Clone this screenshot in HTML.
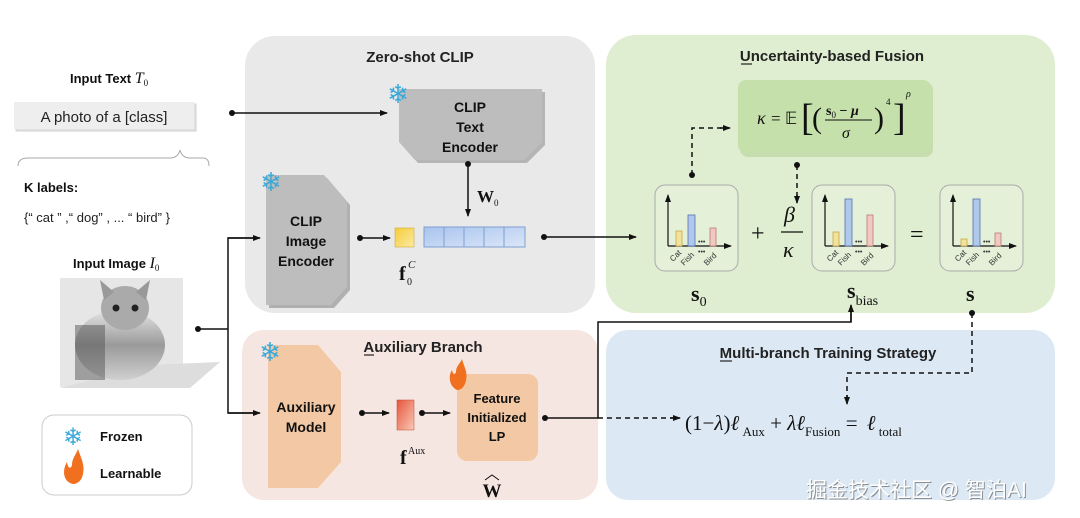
<!DOCTYPE html>
<html><head><meta charset="utf-8"><style>
body{margin:0;width:1080px;height:518px;background:#fff;overflow:hidden;font-family:"Liberation Sans",sans-serif}
svg{position:absolute;left:0;top:0}
</style></head><body>
<svg width="1080" height="518" viewBox="0 0 1080 518" font-family="Liberation Sans, sans-serif">
<defs>
<marker id="a" markerWidth="8" markerHeight="8" refX="7" refY="4" orient="auto" markerUnits="userSpaceOnUse"><path d="M0,1 L8,4 L0,7 z" fill="#111"/></marker>
<linearGradient id="bl" x1="0" y1="0" x2="1" y2="1"><stop offset="0" stop-color="#a9c4ee"/><stop offset="1" stop-color="#dbe6f8"/></linearGradient>
<linearGradient id="ye" x1="0" y1="0" x2="1" y2="1"><stop offset="0" stop-color="#f5cc3a"/><stop offset="1" stop-color="#fbeaa0"/></linearGradient>
<linearGradient id="rd" x1="0" y1="0" x2="1" y2="1"><stop offset="0" stop-color="#e8553a"/><stop offset="1" stop-color="#f8c9b8"/></linearGradient>
<linearGradient id="cat" x1="0" y1="0" x2="0" y2="1"><stop offset="0" stop-color="#e4e4e4"/><stop offset="0.5" stop-color="#9a9a9a"/><stop offset="1" stop-color="#d0d0d0"/></linearGradient>
</defs>
<rect x="245" y="36" width="350" height="277" rx="30" fill="#e9e9e9"/>
<rect x="606" y="35" width="449" height="278" rx="30" fill="#dfedd0"/>
<rect x="242" y="330" width="356" height="170" rx="22" fill="#f6e6e2"/>
<rect x="606" y="330" width="449" height="170" rx="22" fill="#dce9f4"/>
<text x="420" y="62" font-size="15" font-weight="bold" text-anchor="middle" fill="#222">Zero-shot CLIP</text>
<text x="832" y="61" font-size="15" font-weight="bold" text-anchor="middle" fill="#222">Uncertainty-based  Fusion</text>
<line x1="741" y1="64" x2="752" y2="64" stroke="#222" stroke-width="1.2"/>
<text x="423" y="352" font-size="15" font-weight="bold" text-anchor="middle" fill="#222">Auxiliary Branch</text>
<line x1="364" y1="355" x2="374" y2="355" stroke="#222" stroke-width="1.2"/>
<text x="828" y="358" font-size="15" font-weight="bold" text-anchor="middle" fill="#222">Multi-branch Training Strategy</text>
<line x1="720" y1="361" x2="732" y2="361" stroke="#222" stroke-width="1.2"/>
<text x="70" y="83" font-size="13" font-weight="bold" fill="#111">Input Text <tspan font-family="Liberation Serif" font-style="italic" font-weight="normal" font-size="16">T</tspan><tspan font-family="Liberation Serif" font-size="9" font-weight="normal" dy="3">0</tspan></text>
<rect x="16" y="104" width="180" height="27" fill="#e2e2e2" stroke="#d0d0d0"/>
<rect x="14" y="102" width="180" height="27" fill="#eeeeee"/>
<text x="104" y="122" font-size="15" text-anchor="middle" fill="#222">A photo of a [class]</text>
<path d="M18,166 Q18,158 28,158 L170,158 Q178,158 180,150 Q182,158 190,158 L203,158 Q209,158 209,166" fill="none" stroke="#aaa"/>
<text x="24" y="192" font-size="13" font-weight="bold" fill="#111">K labels:</text>
<text x="24" y="222" font-size="13" fill="#222">{“ cat ” ,“ dog” , ... “ bird” }</text>
<text x="73" y="268" font-size="13" font-weight="bold" fill="#111">Input Image <tspan font-family="Liberation Serif" font-style="italic" font-weight="normal" font-size="16">I</tspan><tspan font-family="Liberation Serif" font-size="9" font-weight="normal" dy="3">0</tspan></text>
<rect x="60" y="278" width="123" height="109" fill="#e6e6e6"/>
<polygon points="150,365 220,362 190,388 60,388" fill="#ddd"/>
<ellipse cx="120" cy="345" rx="45" ry="35" fill="url(#cat)"/>
<ellipse cx="125" cy="308" rx="24" ry="22" fill="#aaa"/>
<polygon points="104,300 100,280 114,292" fill="#999"/><polygon points="146,300 150,280 136,292" fill="#999"/>
<circle cx="116" cy="308" r="3.5" fill="#222"/><circle cx="135" cy="308" r="3.5" fill="#222"/>
<rect x="75" y="325" width="30" height="55" fill="#555" opacity="0.5"/>
<rect x="42" y="415" width="150" height="80" rx="12" fill="#fff" stroke="#ccc"/>
<text x="73" y="445" font-size="24" fill="#3ba9d8" text-anchor="middle">❄</text>
<text x="100" y="441" font-size="13" font-weight="bold" fill="#111">Frozen</text>
<path d="M73,484 C63,482 62,470 67,462 C68,469 71,469 72,465 C72,458 76,455 78,449 C81,458 85,465 83,474 C82,480 78,484 73,484z" fill="#f07020"/>
<text x="100" y="478" font-size="13" font-weight="bold" fill="#111">Learnable</text>
<polygon points="402,92 545,92 545,145 527,163 418,163 402,145" fill="#b5b5b5"/>
<polygon points="399,89 542,89 542,142 524,160 415,160 399,142" fill="#bdbdbd"/>
<text x="470" y="112" font-size="14" font-weight="bold" text-anchor="middle" fill="#111">CLIP</text>
<text x="470" y="132" font-size="14" font-weight="bold" text-anchor="middle" fill="#111">Text</text>
<text x="470" y="152" font-size="14" font-weight="bold" text-anchor="middle" fill="#111">Encoder</text>
<text x="398" y="103" font-size="26" fill="#3ba9d8" text-anchor="middle">❄</text>
<polygon points="269,178 327,178 350,205 350,290 334,308 269,308" fill="#b0b0b0"/>
<polygon points="266,175 324,175 347,202 347,287 331,305 266,305" fill="#bdbdbd"/>
<text x="306" y="226" font-size="14" font-weight="bold" text-anchor="middle" fill="#111">CLIP</text>
<text x="306" y="246" font-size="14" font-weight="bold" text-anchor="middle" fill="#111">Image</text>
<text x="306" y="266" font-size="14" font-weight="bold" text-anchor="middle" fill="#111">Encoder</text>
<text x="271" y="191" font-size="26" fill="#3ba9d8" text-anchor="middle">❄</text>
<rect x="395" y="228" width="19" height="19" fill="url(#ye)" stroke="#c9a020" stroke-width="0.5"/>
<g stroke="#7f9fd0" stroke-width="1"><rect x="424" y="227" width="101" height="20" fill="url(#bl)"/>
<line x1="444" y1="227" x2="444" y2="247"/><line x1="464" y1="227" x2="464" y2="247"/><line x1="484" y1="227" x2="484" y2="247"/><line x1="504" y1="227" x2="504" y2="247"/></g>
<text x="399" y="280" font-family="Liberation Serif" font-weight="bold" font-size="20" fill="#111">f</text>
<text x="407" y="285" font-family="Liberation Serif" font-size="10" fill="#111">0</text>
<text x="408" y="268" font-family="Liberation Serif" font-style="italic" font-size="11" fill="#111">C</text>
<text x="477" y="202" font-family="Liberation Serif" font-weight="bold" font-size="17" fill="#111">W<tspan font-size="9" font-weight="normal" dy="4">0</tspan></text>
<g stroke="#111" stroke-width="1.5" fill="none">
<line x1="232" y1="113" x2="387" y2="113" marker-end="url(#a)"/>
<line x1="468" y1="163" x2="468" y2="216" marker-end="url(#a)"/>
<line x1="360" y1="238" x2="390" y2="238" marker-end="url(#a)"/>
<line x1="544" y1="237" x2="636" y2="237" marker-end="url(#a)"/>
<polyline points="198,329 228,329"/>
<polyline points="258,238 228,238 228,413 258,413" />
<line x1="228" y1="238" x2="260" y2="238" marker-end="url(#a)"/>
<line x1="228" y1="413" x2="260" y2="413" marker-end="url(#a)"/>
<line x1="362" y1="413" x2="389" y2="413" marker-end="url(#a)"/>
<line x1="422" y1="413" x2="450" y2="413" marker-end="url(#a)"/>
<polyline points="545,418 598,418 598,322 851,322 851,306"/>
<line x1="851" y1="322" x2="851" y2="305" marker-end="url(#a)"/>
</g>
<g fill="#111"><circle cx="232" cy="113" r="3"/><circle cx="468" cy="164" r="3"/><circle cx="360" cy="238" r="3"/><circle cx="544" cy="237" r="3"/><circle cx="198" cy="329" r="3"/><circle cx="362" cy="413" r="3"/><circle cx="422" cy="413" r="3"/><circle cx="545" cy="418" r="3"/>
<circle cx="692" cy="175" r="3"/><circle cx="797" cy="165" r="3"/><circle cx="972" cy="313" r="3"/></g>
<g stroke="#111" stroke-width="1.5" fill="none" stroke-dasharray="5,4">
<polyline points="692,175 692,128 728,128"/>
<line x1="797" y1="165" x2="797" y2="200"/>
<polyline points="598,418 676,418"/>
<polyline points="972,313 972,373 847,373 847,398"/>
</g>
<g stroke="#111" stroke-width="1.5"><line x1="720" y1="128" x2="730" y2="128" marker-end="url(#a)"/><line x1="797" y1="195" x2="797" y2="203" marker-end="url(#a)"/><line x1="670" y1="418" x2="680" y2="418" marker-end="url(#a)"/><line x1="847" y1="395" x2="847" y2="404" marker-end="url(#a)"/></g>
<rect x="740" y="82" width="193" height="75" rx="8" fill="#b6d49a" opacity="0.6"/>
<rect x="738" y="80" width="193" height="73" rx="8" fill="#c5e0ab"/>
<g font-family="Liberation Serif" fill="#111">
<text x="757" y="124" font-size="18" font-style="italic">κ</text>
<text x="771" y="124" font-size="17">= 𝔼</text>
<text x="801" y="130" font-size="38" font-weight="100">[</text>
<text x="812" y="128" font-size="30">(</text>
<text x="826" y="115" font-size="14" font-weight="bold">s<tspan font-size="9" font-weight="normal" dy="3">0</tspan><tspan dy="-3"> − </tspan><tspan font-style="italic">μ</tspan></text>
<line x1="825" y1="120" x2="872" y2="120" stroke="#111" stroke-width="1"/>
<text x="842" y="138" font-size="16" font-style="italic">σ</text>
<text x="874" y="128" font-size="30">)</text>
<text x="886" y="105" font-size="9">4</text>
<text x="893" y="130" font-size="38">]</text>
<text x="906" y="97" font-size="10" font-style="italic">ρ</text>
</g>
<rect x="655" y="185" width="83" height="86" rx="10" fill="#e4f0d8" stroke="#aaa"/>
<rect x="812" y="185" width="83" height="86" rx="10" fill="#e4f0d8" stroke="#aaa"/>
<rect x="940" y="185" width="83" height="86" rx="10" fill="#e4f0d8" stroke="#aaa"/>
<g stroke="#111" stroke-width="1.2">
<line x1="668" y1="246" x2="668" y2="195" marker-end="url(#a)"/><line x1="668" y1="246" x2="731" y2="246" marker-end="url(#a)"/>
<line x1="825" y1="246" x2="825" y2="195" marker-end="url(#a)"/><line x1="825" y1="246" x2="888" y2="246" marker-end="url(#a)"/>
<line x1="953" y1="246" x2="953" y2="195" marker-end="url(#a)"/><line x1="953" y1="246" x2="1016" y2="246" marker-end="url(#a)"/>
</g>
<g stroke-width="0.8">
<rect x="676" y="231" width="6" height="15" fill="#f3e29a" stroke="#c9a84a"/><rect x="688" y="215" width="7" height="31" fill="#b0c8ec" stroke="#5573b0"/><rect x="710" y="228" width="6" height="18" fill="#f0c8c4" stroke="#c07a70"/>
<rect x="833" y="232" width="6" height="14" fill="#f3e29a" stroke="#c9a84a"/><rect x="845" y="199" width="7" height="47" fill="#b0c8ec" stroke="#5573b0"/><rect x="867" y="215" width="6" height="31" fill="#f0c8c4" stroke="#c07a70"/>
<rect x="961" y="239" width="6" height="7" fill="#f3e29a" stroke="#c9a84a"/><rect x="973" y="199" width="7" height="47" fill="#b0c8ec" stroke="#5573b0"/><rect x="995" y="233" width="6" height="13" fill="#f0c8c4" stroke="#c07a70"/>
</g>
<g font-size="8" fill="#333">
<text transform="translate(673,262) rotate(-45)">Cat</text><text transform="translate(684,266) rotate(-45)">Fish</text><text transform="translate(707,266) rotate(-45)">Bird</text><text x="698" y="244" font-size="7">•••</text><text x="698" y="254" font-size="7">•••</text>
<text transform="translate(830,262) rotate(-45)">Cat</text><text transform="translate(841,266) rotate(-45)">Fish</text><text transform="translate(864,266) rotate(-45)">Bird</text><text x="855" y="244" font-size="7">•••</text><text x="855" y="254" font-size="7">•••</text>
<text transform="translate(958,262) rotate(-45)">Cat</text><text transform="translate(969,266) rotate(-45)">Fish</text><text transform="translate(992,266) rotate(-45)">Bird</text><text x="983" y="244" font-size="7">•••</text><text x="983" y="254" font-size="7">•••</text>
</g>
<g font-family="Liberation Serif" fill="#111">
<text x="751" y="241" font-size="24">+</text>
<text x="784" y="222" font-size="22" font-style="italic">β</text>
<line x1="781" y1="232" x2="803" y2="232" stroke="#111" stroke-width="1.2"/>
<text x="783" y="257" font-size="22" font-style="italic">κ</text>
<text x="910" y="242" font-size="24">=</text>
<text x="691" y="301" font-size="22" font-weight="bold">s<tspan font-size="14" font-weight="normal" dy="5">0</tspan></text>
<text x="847" y="298" font-size="22" font-weight="bold">s<tspan font-size="14" font-weight="normal" dy="7">bias</tspan></text>
<text x="966" y="301" font-size="22" font-weight="bold">s</text>
</g>
<polygon points="268,345 318,345 341,372 341,462 318,488 268,488" fill="#f3c8a4"/>
<text x="306" y="412" font-size="14" font-weight="bold" text-anchor="middle" fill="#111">Auxiliary</text>
<text x="306" y="432" font-size="14" font-weight="bold" text-anchor="middle" fill="#111">Model</text>
<text x="270" y="361" font-size="26" fill="#3ba9d8" text-anchor="middle">❄</text>
<rect x="397" y="400" width="17" height="30" fill="url(#rd)" stroke="#c04a30" stroke-width="0.5"/>
<text x="400" y="464" font-family="Liberation Serif" font-weight="bold" font-size="20" fill="#111">f</text>
<text x="408" y="454" font-family="Liberation Serif" font-size="10" fill="#111">Aux</text>
<rect x="457" y="374" width="81" height="87" rx="10" fill="#f3c8a4"/>
<text x="497" y="403" font-size="13" font-weight="bold" text-anchor="middle" fill="#111">Feature</text>
<text x="497" y="422" font-size="13" font-weight="bold" text-anchor="middle" fill="#111">Initialized</text>
<text x="497" y="441" font-size="13" font-weight="bold" text-anchor="middle" fill="#111">LP</text>
<path d="M457,390 C449,386 448,376 452,370 C453,375 455,375 456,372 C456,366 460,364 462,359 C464,367 468,372 466,380 C465,386 462,390 457,390z" fill="#f07020"/>
<text x="492" y="497" font-family="Liberation Serif" font-weight="bold" font-size="19" text-anchor="middle" fill="#111">W</text>
<path d="M485,480 L492,475 L499,480" fill="none" stroke="#111" stroke-width="1"/>
<text x="685" y="430" font-family="Liberation Serif" font-size="21" fill="#111">(1−<tspan font-style="italic">λ</tspan>)<tspan font-style="italic">ℓ</tspan><tspan font-size="13" dy="6"> Aux</tspan><tspan dy="-6"> + </tspan><tspan font-style="italic">λℓ</tspan><tspan font-size="13" dy="6">Fusion</tspan><tspan dy="-6"> = </tspan><tspan font-style="italic" dx="4">ℓ</tspan><tspan font-size="13" dy="6"> total</tspan></text>
<text x="807" y="498" font-family="Liberation Sans, Noto Sans CJK SC, sans-serif" font-size="21" fill="#555" opacity="0.6">掘金技术社区 @ 智泊AI</text>
<text x="806" y="497" font-family="Liberation Sans, Noto Sans CJK SC, sans-serif" font-size="21" fill="#fff">掘金技术社区 @ 智泊AI</text>
</svg>
</body></html>
